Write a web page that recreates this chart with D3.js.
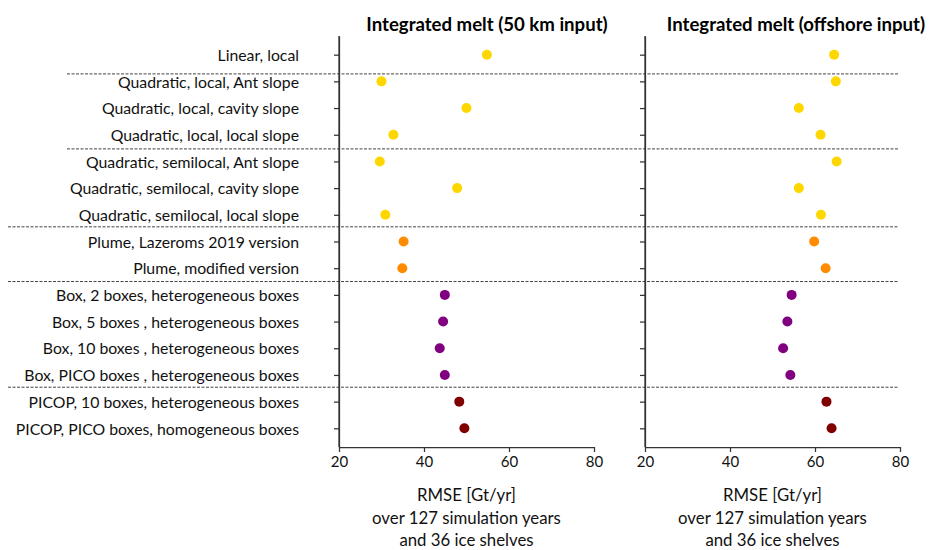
<!DOCTYPE html>
<html>
<head>
<meta charset="utf-8">
<script src="https://cdn.jsdelivr.net/npm/d3@7"></script>
<style>
  html, body { margin: 0; padding: 0; background: #fff; }
  svg { display: block; font-family: "Source Sans Pro", Lato, "Noto Sans", sans-serif; }
</style>
</head>
<body>
<svg id="chart" width="930" height="550"></svg>
<script>
// Parameterisation names, top to bottom
const methods = [
  "Linear, local",
  "Quadratic, local, Ant slope",
  "Quadratic, local, cavity slope",
  "Quadratic, local, local slope",
  "Quadratic, semilocal, Ant slope",
  "Quadratic, semilocal, cavity slope",
  "Quadratic, semilocal, local slope",
  "Plume, Lazeroms 2019 version",
  "Plume, modified version",
  "Box, 2 boxes, heterogeneous boxes",
  "Box, 5 boxes , heterogeneous boxes",
  "Box, 10 boxes , heterogeneous boxes",
  "Box, PICO boxes , heterogeneous boxes",
  "PICOP, 10 boxes, heterogeneous boxes",
  "PICOP, PICO boxes, homogeneous boxes"
];
// Family of each parameterisation (drives the dot colour)
const families = [
  "linear", "quad", "quad", "quad", "quad", "quad", "quad",
  "plume", "plume", "box", "box", "box", "box", "picop", "picop"
];
// RMSE of integrated melt [Gt/yr], 50 km input
const rmse50km = [54.8, 30.0, 50.0, 32.8, 29.6, 47.8, 30.9, 35.2, 34.9, 44.9, 44.5, 43.7, 44.9, 48.3, 49.5];
// RMSE of integrated melt [Gt/yr], offshore input
const rmseOffshore = [64.5, 64.9, 56.2, 61.3, 65.1, 56.2, 61.4, 59.8, 62.5, 54.5, 53.5, 52.5, 54.2, 62.7, 63.9];

const panelTitles = ["Integrated melt (50 km input)", "Integrated melt (offshore input)"];
const xTicks = [20, 40, 60, 80];
const xLabelLines = ["RMSE [Gt/yr]", "over 127 simulation years", "and 36 ice shelves"];

// Group separators: position in row units, and whether the line starts under the labels or at the page edge
const separators = [
  { pos: 0.72, full: false },
  { pos: 3.53, full: false },
  { pos: 6.45, full: true },
  { pos: 8.5, full: true },
  { pos: 12.46, full: true }
];

const familyColor = {
  linear: "#FFD700", quad: "#FFD700", plume: "#FF8C00", box: "#800080", picop: "#800000"
};

const svg = d3.select("#chart");
const axisColor = "#333";
const fontStack = "\"Source Sans Pro\", Lato, \"Noto Sans\", sans-serif";

const y = d3.scaleLinear().domain([-0.7, methods.length - 1 + 0.7]).range([36, 447]);

const panels = [
  { values: rmse50km, x0: 339, x1: 594, title: panelTitles[0], titleX: 487, labels: true },
  { values: rmseOffshore, x0: 645, x1: 900, title: panelTitles[1], titleX: 796, labels: false }
];

// Separators run across both panels
separators.forEach(s => {
  svg.append("line")
    .attr("x1", s.full ? 8 : 67).attr("x2", 898)
    .attr("y1", y(s.pos)).attr("y2", y(s.pos))
    .attr("stroke", "#444").attr("stroke-width", 1)
    .attr("stroke-dasharray", "3,1.5");
});

panels.forEach(p => {
  const x = d3.scaleLinear().domain([20, 80]).range([p.x0, p.x1]);
  const g = svg.append("g");

  // y axis spine with ticks
  const yAxis = g.append("g").attr("transform", `translate(${p.x0},0)`)
    .call(d3.axisLeft(y).tickValues(d3.range(methods.length)).tickSize(5).tickSizeOuter(0)
      .tickFormat(i => p.labels ? methods[i] : ""));
  yAxis.select(".domain").attr("stroke", axisColor).attr("stroke-width", 1.25);
  yAxis.selectAll(".tick line").attr("stroke", axisColor).attr("stroke-width", 1.25);
  yAxis.selectAll(".tick text")
    .attr("x", -40).attr("dy", "0.36em")
    .attr("font-size", 15.8).attr("fill", "#111")
    .style("font-family", fontStack);

  // x axis
  const xAxis = g.append("g").attr("transform", `translate(0,${y.range()[1]})`)
    .call(d3.axisBottom(x).tickValues(xTicks).tickSize(5).tickSizeOuter(0).tickFormat(d3.format("d")));
  xAxis.select(".domain").attr("stroke", axisColor).attr("stroke-width", 1.25);
  xAxis.selectAll(".tick line").attr("stroke", axisColor).attr("stroke-width", 1.25);
  xAxis.selectAll(".tick text").attr("y", 9).attr("dy", "0.71em")
    .attr("font-size", 15).attr("fill", "#111")
    .style("font-family", fontStack);

  // extend the spine down to meet the x axis corner
  g.append("line").attr("x1", p.x0).attr("x2", p.x0)
    .attr("y1", y.range()[0]).attr("y2", y.range()[1])
    .attr("stroke", axisColor).attr("stroke-width", 1.25);

  // dots
  g.selectAll("circle").data(p.values).join("circle")
    .attr("cx", d => x(d))
    .attr("cy", (d, i) => y(i))
    .attr("r", 5)
    .attr("fill", (d, i) => familyColor[families[i]]);

  // title
  svg.append("text").attr("x", p.titleX).attr("y", 31)
    .attr("text-anchor", "middle").attr("font-weight", "bold")
    .attr("font-size", 18.6).attr("fill", "#000").text(p.title);

  // x label
  const cx = (p.x0 + p.x1) / 2;
  xLabelLines.forEach((t, k) => {
    svg.append("text").attr("x", cx).attr("y", 501 + k * 22.5)
      .attr("text-anchor", "middle").attr("font-size", 16.8).attr("fill", "#111").text(t);
  });
});
</script>
</body>
</html>
